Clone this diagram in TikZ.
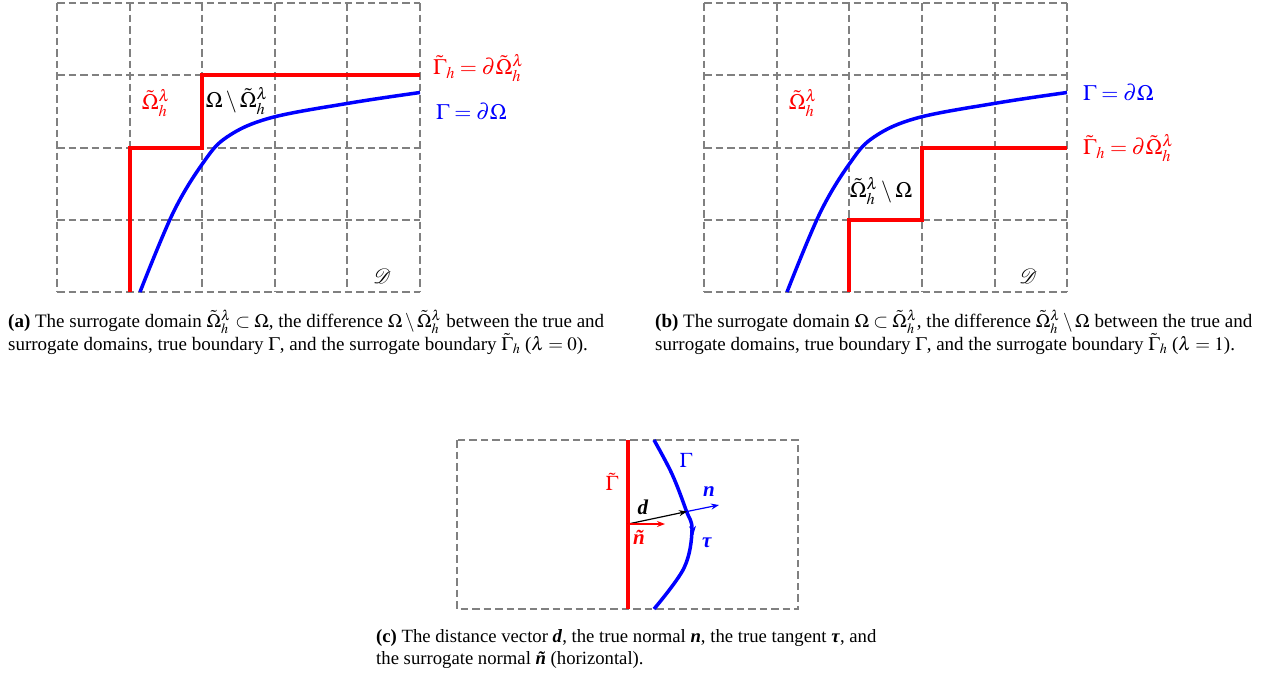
\documentclass[tikz,border=0pt]{standalone}
\usepackage{mathptmx}
\usepackage{mathrsfs}
\usepackage[no-math]{fontspec}
\setmainfont{Liberation Serif}
\usetikzlibrary{arrows.meta}
\definecolor{gridgray}{RGB}{128,128,128}
\begin{document}
\begin{tikzpicture}[x=1pt,y=-1pt,
  gridline/.style={draw=gridgray, line width=1.7pt, dash pattern=on 7.5pt off 4pt},
  redb/.style={draw=red, line width=3.5pt},
  blueb/.style={draw=blue, line width=3.5pt},
  lbl/.style={inner sep=0pt, font=\fontsize{22}{26}\selectfont},
  lblc/.style={inner sep=0pt, font=\fontsize{21}{25}\selectfont},
  captext/.style={inner sep=0pt, anchor=base west, font=\fontsize{19}{23}\selectfont},
  captextc/.style={captext, font=\fontsize{18.7}{23}\selectfont},
  vec/.style={line width=1.2pt, -{Stealth[length=8pt,width=6pt]}},
]
\useasboundingbox (0,0) rectangle (1275,675);

% ---------- panel (a) ----------
\foreach \x in {57,130,202,275,347,420}
  \draw[gridline] (\x,3) -- (\x,292);
\foreach \y in {3,75,148,220,292}
  \draw[gridline] (57,\y) -- (420,\y);
\draw[redb] (130,292) -- (130,148) -- (202,148) -- (202,75) -- (420,75);
\draw[blueb] plot[smooth, tension=0.6] coordinates {(140,292) (173,213) (203,163) (227,137) (270,118) (350,103) (420,92.5)};
\node[lbl, red] (aomh) at (156,103) {$\tilde\Omega_h^\lambda$};
\node[lbl] (adiff) at (237,101) {$\Omega\setminus\tilde\Omega_h^\lambda$};
\node[lbl, red, anchor=west] (agh) at (433,68) {$\tilde\Gamma_h=\partial\tilde\Omega_h^\lambda$};
\node[lbl, blue, anchor=west] (ag) at (436,112) {$\Gamma=\partial\Omega$};
\node[lbl] (aD) at (382,276) {$\mathscr{D}$};

% ---------- panel (b) ----------
\foreach \x in {704,777,849,922,995,1067}
  \draw[gridline] (\x,3) -- (\x,292);
\foreach \y in {3,75,148,220,292}
  \draw[gridline] (704,\y) -- (1067,\y);
\draw[redb] (849,292) -- (849,220) -- (922,220) -- (922,148) -- (1067,148);
\draw[blueb] plot[smooth, tension=0.6] coordinates {(787,292) (820,213) (850,163) (874,137) (917,118) (997,103) (1067,92.5)};
\node[lbl, red] (bomh) at (803,103) {$\tilde\Omega_h^\lambda$};
\node[lbl] (bdiff) at (881,191) {$\tilde\Omega_h^\lambda\setminus\Omega$};
\node[lbl, blue, anchor=west] (bg) at (1083,93) {$\Gamma=\partial\Omega$};
\node[lbl, red, anchor=west] (bgh) at (1083,148) {$\tilde\Gamma_h=\partial\tilde\Omega_h^\lambda$};
\node[lbl] (bD) at (1028,276) {$\mathscr{D}$};

% ---------- panel (c) ----------
\draw[gridline] (457,440) rectangle (798,609);
\draw[redb] (628,440) -- (628,609);
\draw[blueb] plot[smooth, tension=0.6] coordinates {(654,440) (672,474) (686,510) (692,530) (684,568) (654,609)};
\coordinate (base) at (628,524);
\coordinate (hit) at (687,511.5);
\coordinate (ntip) at (719,505);
\coordinate (nttip) at (665,524);
\coordinate (tau1) at (692.2,523);
\coordinate (tau2) at (693.2,535);
\draw[vec, black] (base) -- (hit);
\draw[vec, blue] (hit) -- (ntip);
\draw[vec, red] (base) -- (nttip);
\draw[blue, line width=1pt, -{Stealth[length=9pt,width=7pt]}] (tau1) -- (tau2);
\node[lblc, red] (cgt) at (612,482) {$\tilde\Gamma$};
\node[lblc, blue] (cg) at (686,460) {$\Gamma$};
\node[lblc, blue] (cn) at (709,492) {\textbf{\textit{n}}};
\node[lblc] (cd) at (643,507) {\textbf{\textit{d}}};
\node[lblc, red] (cnt) at (639,537) {\textbf{\textit{ñ}}};
\node[lblc, blue] (ctau) at (707,543) {\textbf{\textit{τ}}};

% ---------- captions ----------
\node[captext] (capa1) at (8,327) {\textbf{(a)} The surrogate domain $\tilde\Omega_h^\lambda\subset\Omega$, the difference $\Omega\setminus\tilde\Omega_h^\lambda$ between the true and};
\node[captext] (capa2) at (8,350) {surrogate domains, true boundary $\Gamma$, and the surrogate boundary $\tilde\Gamma_h$ ($\lambda=0$).};
\node[captext] (capb1) at (655,327) {\textbf{(b)} The surrogate domain $\Omega\subset\tilde\Omega_h^\lambda$, the difference $\tilde\Omega_h^\lambda\setminus\Omega$ between the true and};
\node[captext] (capb2) at (655,350) {surrogate domains, true boundary $\Gamma$, and the surrogate boundary $\tilde\Gamma_h$ ($\lambda=1$).};
\node[captextc] (capc1) at (376,642) {\textbf{(c)} The distance vector \textbf{\textit{d}}, the true normal \textbf{\textit{n}}, the true tangent \textbf{\textit{τ}}, and};
\node[captextc] (capc2) at (376,664.5) {the surrogate normal \textbf{\textit{ñ}} (horizontal).};
\end{tikzpicture}
\end{document}
